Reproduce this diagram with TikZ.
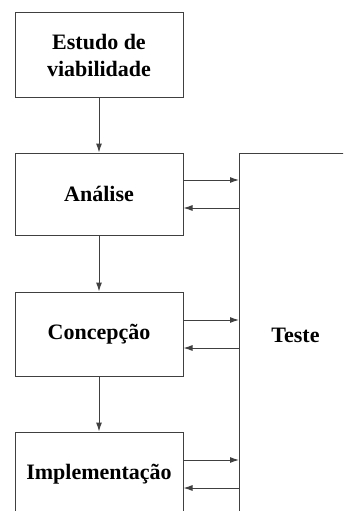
\documentclass[tikz,border=0pt]{standalone}
\usepackage{fontspec}
\setmainfont{Liberation Serif}
\usetikzlibrary{arrows.meta}

\begin{document}
\begin{tikzpicture}[x=1pt,y=-1pt,
	phase/.style={draw=black!75,line width=1pt,rectangle,minimum width=168pt,minimum height=84pt,align=center,font=\fontsize{22}{27}\selectfont\bfseries},
	flow/.style={draw=black!75,line width=1pt,-{Latex[length=9pt,width=6pt]}}]
	\clip (0,0) rectangle (343,511);
	\fill[white] (0,0) rectangle (343,511);

	% Draw phases
	\node[phase] (estudo) at (99,55) {Estudo de\\viabilidade};
	\node[phase,minimum height=82pt] (analise) at (99,194) {Análise};
	\node[phase] (concepcao) at (99,334) {Concepção};
	\node[phase] (implementacao) at (99,474) {Implementação};

	% Draw test block (runs off the page)
	\node[phase,anchor=north west,minimum width=112pt,minimum height=364pt] (teste) at (239,153) {Teste};

	% Arrows between phases
	\draw[flow] (estudo) -- (analise);
	\draw[flow] (analise) -- (concepcao);
	\draw[flow] (concepcao) -- (implementacao);

	% Arrows to and from the tests
	\foreach \ph in {analise,concepcao,implementacao} {
		\draw[flow] ([yshift=14pt]\ph.east) -- ([yshift=14pt]\ph.east -| teste.west);
		\draw[flow] ([yshift=-14pt]\ph.east -| teste.west) -- ([yshift=-14pt]\ph.east);
	}
\end{tikzpicture}
\end{document}
